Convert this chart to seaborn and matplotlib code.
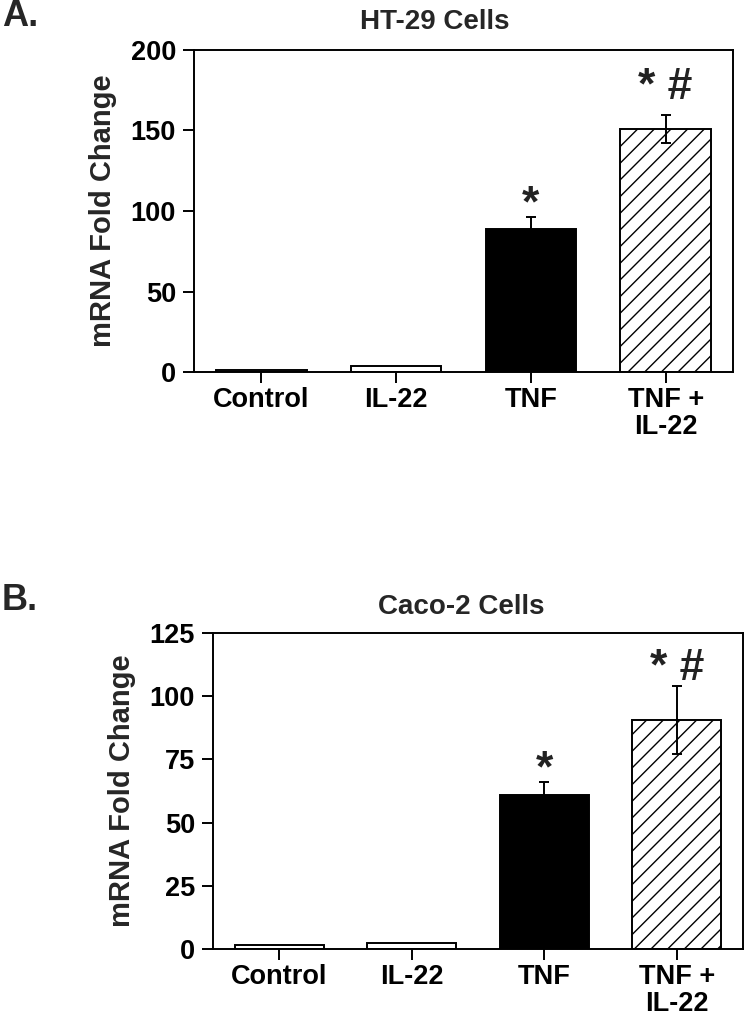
import matplotlib
matplotlib.use('Agg')
import matplotlib.pyplot as plt
import seaborn as sns

# data
groups = ['Control', 'IL-22', 'TNF', 'TNF +\nIL-22']
bar_colors = ['white', 'white', 'black', 'white']
bar_hatches = ['', '', '', '//']

ht29_mean = [1.2, 4.0, 89.0, 151.0]
ht29_err = [0, 0, 7.5, 8.5]
ht29_marks = ['', '', '*', '* #']
ht29_mark_y = [0, 0, 104, 177]
ht29_yticks = [0, 50, 100, 150, 200]

caco2_mean = [1.5, 2.4, 61.0, 90.5]
caco2_err = [0, 0, 5.0, 13.5]
caco2_marks = ['', '', '*', '* #']
caco2_mark_y = [0, 0, 71, 111]
caco2_yticks = [0, 25, 50, 75, 100, 125]

sns.set_theme(style='ticks')
plt.rcParams['font.family'] = ['Liberation Sans', 'DejaVu Sans']
plt.rcParams['font.weight'] = 'bold'
plt.rcParams['hatch.linewidth'] = 1.0
plt.rcParams['hatch.color'] = 'black'

fig = plt.figure(figsize=(7.45, 10.18), dpi=100)
W, H = 745.0, 1018.0


def panel(rect, means, errs, marks, mark_y, yticks, title, title_xy, letter_xy, letter):
    l, t, r, b = rect
    ax = fig.add_axes([l / W, 1 - b / H, (r - l) / W, (b - t) / H])
    sns.barplot(x=groups, y=means, ax=ax, color='white', edgecolor='black',
                linewidth=1.4, width=0.67, errorbar=None, saturation=1)
    centers = []
    for p, fc, hatch in zip(ax.patches, bar_colors, bar_hatches):
        p.set_facecolor(fc)
        p.set_hatch(hatch)
        centers.append(p.get_x() + p.get_width() / 2)
    # error bars only where there is one
    ex = [c for c, e in zip(centers, errs) if e > 0]
    ey = [m for m, e in zip(means, errs) if e > 0]
    ee = [e for e in errs if e > 0]
    ax.errorbar(ex, ey, yerr=ee, fmt='none', ecolor='black', elinewidth=1.4,
                capsize=3.5, capthick=1.4, zorder=5)
    for c, m, y in zip(centers, marks, mark_y):
        if m:
            ax.text(c, y, m, ha='center', va='center', fontsize=32,
                    fontweight='bold', color='#222222')
    ax.set_xlim(-0.5, len(groups) - 0.5)
    ax.set_ylim(yticks[0], yticks[-1])
    ax.set_yticks(yticks)
    ax.set_ylabel('mRNA Fold Change', fontsize=21, fontweight='bold', labelpad=10)
    ax.set_xlabel('')
    for s in ax.spines.values():
        s.set_visible(True)
        s.set_linewidth(1.4)
        s.set_color('black')
    ax.tick_params(axis='both', direction='out', length=8, width=1.4,
                   labelsize=19.5, colors='black')
    ax.tick_params(axis='y', pad=5)
    ax.tick_params(axis='x', pad=3)
    for lab in ax.get_xticklabels() + ax.get_yticklabels():
        lab.set_fontweight('bold')
        lab.set_linespacing(1.05)
    fig.text(title_xy[0] / W, 1 - title_xy[1] / H, title, ha='center', va='center',
             fontsize=20, fontweight='bold')
    fig.text(letter_xy[0] / W, 1 - letter_xy[1] / H, letter, ha='left', va='center',
             fontsize=26, fontweight='bold')
    return ax


panel((194, 50, 733, 372), ht29_mean, ht29_err, ht29_marks, ht29_mark_y, ht29_yticks,
      'HT-29 Cells', (435, 22), (2, 17), 'A.')
panel((213, 633, 743, 949), caco2_mean, caco2_err, caco2_marks, caco2_mark_y, caco2_yticks,
      'Caco-2 Cells', (461, 607), (2, 601), 'B.')

fig.savefig('out.png', dpi=100)
